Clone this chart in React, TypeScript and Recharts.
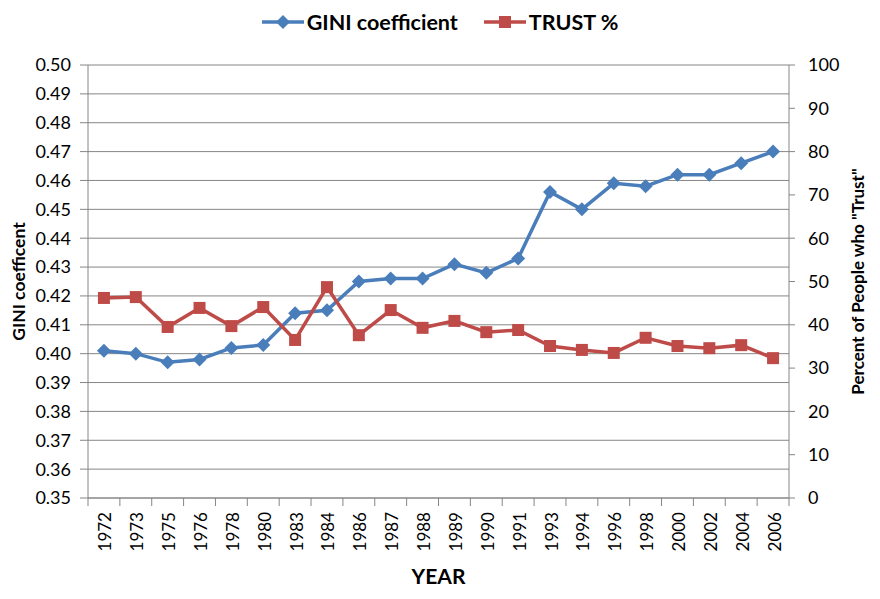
import React from 'react';
import { ComposedChart, Line, XAxis, YAxis, CartesianGrid, Legend } from 'recharts';

const years = ['1972', '1973', '1975', '1976', '1978', '1980', '1983', '1984', '1986', '1987', '1988', '1989', '1990', '1991', '1993', '1994', '1996', '1998', '2000', '2002', '2004', '2006'];
const gini = [0.401, 0.400, 0.397, 0.398, 0.402, 0.403, 0.414, 0.415, 0.425, 0.426, 0.426, 0.431, 0.428, 0.433, 0.456, 0.450, 0.459, 0.458, 0.462, 0.462, 0.466, 0.470];
const trust = [46.2, 46.4, 39.5, 43.9, 39.7, 44.1, 36.5, 48.7, 37.6, 43.4, 39.3, 40.9, 38.3, 38.8, 35.1, 34.2, 33.5, 37.0, 35.1, 34.6, 35.3, 32.3];
const giniTicks = [0.35, 0.36, 0.37, 0.38, 0.39, 0.40, 0.41, 0.42, 0.43, 0.44, 0.45, 0.46, 0.47, 0.48, 0.49, 0.50];
const trustTicks = [0, 10, 20, 30, 40, 50, 60, 70, 80, 90, 100];
const seriesNames = ['GINI coefficient', 'TRUST %'];

const data = years.map((year, i) => ({ year, gini: gini[i], trust: trust[i] }));

const BLUE = '#4A7EBB';
const RED = '#BE4B48';
const GRID = '#868686';
const FONT = 'Lato, "Open Sans", sans-serif';

const Diamond = (props: any) => {
  const { cx, cy } = props;
  if (cx == null || cy == null) return null;
  const r = 7;
  return <path key={`d-${cx}`} d={`M${cx},${cy - r}L${cx + r},${cy}L${cx},${cy + r}L${cx - r},${cy}Z`} fill={BLUE} />;
};

const Square = (props: any) => {
  const { cx, cy } = props;
  if (cx == null || cy == null) return null;
  const s = 6;
  return <rect key={`s-${cx}`} x={cx - s} y={cy - s} width={2 * s} height={2 * s} fill={RED} />;
};

const BAND = (789 - 88) / years.length;

const YearTick = (props: any) => {
  const { x, y, payload, index } = props;
  const isLast = index === years.length - 1;
  return (
    <g>
      <line x1={x - BAND / 2} x2={x - BAND / 2} y1={y - 8} y2={y} stroke={GRID} />
      {isLast && <line x1={x + BAND / 2} x2={x + BAND / 2} y1={y - 8} y2={y} stroke={GRID} />}
      <text
        x={x + 1}
        y={y + 6}
        transform={`rotate(-90, ${x + 1}, ${y + 6})`}
        textAnchor="end"
        dominantBaseline="central"
        fontFamily={FONT}
        fontSize={17}
        fill="#000"
      >
        {payload.value}
      </text>
    </g>
  );
};

const LegendContent = () => (
  <div style={{ display: 'flex', justifyContent: 'center', alignItems: 'center', fontFamily: FONT, fontWeight: 700, fontSize: 21.5, color: '#000', marginLeft: 0 }}>
    <div style={{ display: 'flex', alignItems: 'center', marginRight: 26 }}>
      <svg width={42} height={16} style={{ marginRight: 3 }}>
        <line x1={0} x2={42} y1={8} y2={8} stroke={BLUE} strokeWidth={3.5} />
        <path d="M21,1L28,8L21,15L14,8Z" fill={BLUE} />
      </svg>
      <span>{seriesNames[0]}</span>
    </div>
    <div style={{ display: 'flex', alignItems: 'center' }}>
      <svg width={42} height={16} style={{ marginRight: 3 }}>
        <line x1={0} x2={42} y1={8} y2={8} stroke={RED} strokeWidth={3.5} />
        <rect x={15} y={2} width={12} height={12} fill={RED} />
      </svg>
      <span>{seriesNames[1]}</span>
    </div>
  </div>
);

const leftLabel = ({ viewBox }: any) => {
  const cx = viewBox.x + 18;
  const cy = viewBox.y + viewBox.height / 2;
  return (
    <text x={cx} y={cy} transform={`rotate(-90, ${cx}, ${cy})`} textAnchor="middle" dominantBaseline="central" fontFamily={FONT} fontWeight={700} fontSize={17.5} fill="#000">
      GINI coefficent
    </text>
  );
};

const rightLabel = ({ viewBox }: any) => {
  const cx = viewBox.x + 68;
  const cy = viewBox.y + viewBox.height / 2;
  return (
    <text x={cx} y={cy} transform={`rotate(-90, ${cx}, ${cy})`} textAnchor="middle" dominantBaseline="central" fontFamily={FONT} fontWeight={700} fontSize={17} fill="#000">
      Percent of People who "Trust"
    </text>
  );
};

const bottomLabel = ({ viewBox }: any) => {
  const cx = viewBox.x + viewBox.width / 2;
  return (
    <text x={cx} y={575} textAnchor="middle" dominantBaseline="central" fontFamily={FONT} fontWeight={700} fontSize={21} fill="#000">
      YEAR
    </text>
  );
};

export default function App() {
  return (
    <div style={{ position: 'absolute', left: 0, top: 0, width: 880, height: 599, background: '#fff' }}>
      <ComposedChart width={880} height={599} data={data} margin={{ top: 65, right: 0, bottom: 0, left: 0 }}>
        <CartesianGrid yAxisId="left" vertical={false} stroke={GRID} strokeWidth={1} />
        <XAxis
          dataKey="year"
          height={101}
          tickLine={false}
          axisLine={{ stroke: GRID }}
          interval={0}
          padding={{ left: BAND / 2, right: BAND / 2 }}
          tick={<YearTick />}
          label={{ content: bottomLabel }}
        />
        <YAxis
          yAxisId="left"
          width={88}
          domain={[0.35, 0.5]}
          ticks={giniTicks}
          tickFormatter={(v: number) => v.toFixed(2)}
          tickSize={8}
          tickMargin={9}
          tickLine={{ stroke: GRID }}
          axisLine={{ stroke: GRID }}
          tick={{ fontFamily: FONT, fontSize: 18, fill: '#000' }}
          label={{ content: leftLabel }}
        />
        <YAxis
          yAxisId="right"
          orientation="right"
          width={91}
          domain={[0, 100]}
          ticks={trustTicks}
          tickSize={6}
          tickMargin={13}
          tickLine={{ stroke: GRID }}
          axisLine={{ stroke: GRID }}
          tick={{ fontFamily: FONT, fontSize: 18, fill: '#000', textAnchor: 'start' }}
          label={{ content: rightLabel }}
        />
        <Legend
          verticalAlign="top"
          content={<LegendContent />}
          wrapperStyle={{ top: 9, left: 0, width: 880, height: 0, overflow: 'visible' }}
        />
        <Line
          yAxisId="left"
          dataKey="gini"
          name={seriesNames[0]}
          stroke={BLUE}
          strokeWidth={3.5}
          dot={<Diamond />}
          activeDot={false}
          isAnimationActive={false}
        />
        <Line
          yAxisId="right"
          dataKey="trust"
          name={seriesNames[1]}
          stroke={RED}
          strokeWidth={3.5}
          dot={<Square />}
          activeDot={false}
          isAnimationActive={false}
        />
      </ComposedChart>
    </div>
  );
}
